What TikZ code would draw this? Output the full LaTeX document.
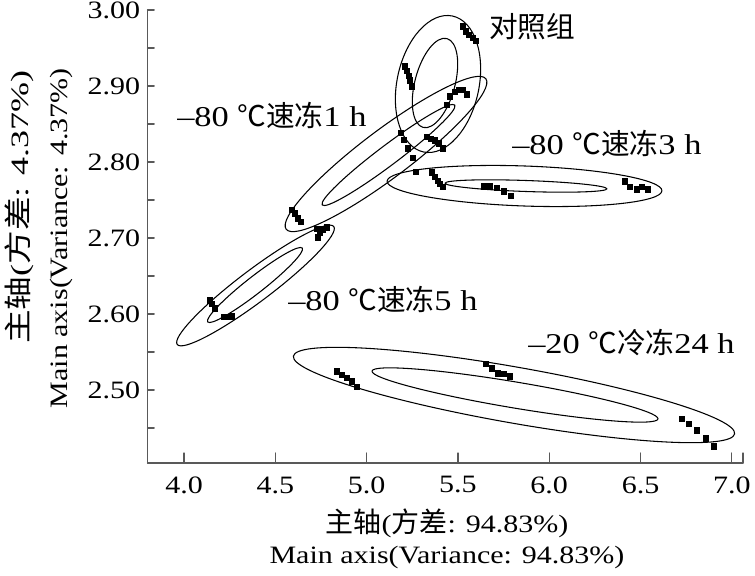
\documentclass[tikz,border=0pt]{standalone}
\usepackage{graphicx}
\usepackage{fontspec}
\setmainfont{Liberation Serif}[FakeStretch=1.2]
\newfontfamily\cjk{Noto Sans CJK SC}
\newfontfamily\cjktitle{Noto Sans CJK SC}[Scale=1.12]
\newcommand{\zh}[1]{{\cjk #1}}
\newcommand{\zht}[1]{{\cjktitle #1}}

\begin{document}
\begin{tikzpicture}[x=0.75pt, y=0.75pt, line cap=round, line join=round,
	ring/.style={line width=0.8pt},
	axis/.style={black!65, line width=0.9pt},
	sample/.style={rectangle, fill=black, inner sep=0pt, minimum size=4.9pt},
	ticktext/.style={font=\fontsize{18.75}{20}\selectfont, inner sep=0pt},
	grouptext/.style={font=\fontsize{21.5}{24}\selectfont, inner sep=0pt}]
\useasboundingbox (0,0) rectangle (755,575);
%========================
% data frame: main axis scores
%========================
\begin{scope}[shift={(-546.4,-1715)}, x=136.95pt, y=570pt]
	% axes
	\draw[axis] (3.8,2.404) -- (7.061,2.404);
	\draw[axis] (3.8,2.404) -- (3.8,3.0);
	
	% x ticks and labels
	\foreach \v [count=\i] in {4.0,4.5,5.0,5.5,6.0,6.5,7.0} {
		\draw[axis] (\v,2.404) -- ++(0pt,7.5pt);
		\node[ticktext, below=10pt] (xl\i) at (\v,2.404) {\v};
	}
	\draw[axis] (7.061,2.404) -- ++(0pt,7.5pt);
	
	% y ticks and labels
	\foreach \v in {2.45,2.50,...,3.01}
		\draw[axis] (3.8,\v) -- ++(5pt,0pt);
	\foreach \v [count=\i] in {2.50,2.60,2.70,2.80,2.90,3.00}
		\node[ticktext, left=5.25pt] (yl\i) at (3.8,\v) {\v};
	
	% samples
	\foreach \sx/\sy [count=\i] in {
		5.528/2.978, 5.544/2.972, 5.561/2.967, 5.583/2.963, 5.599/2.959,
		5.210/2.926, 5.221/2.920, 5.232/2.913, 5.238/2.907, 5.249/2.899,
		5.440/2.875, 5.457/2.886, 5.484/2.892, 5.506/2.895, 5.528/2.895, 5.550/2.889,
		5.188/2.838, 5.205/2.829, 5.227/2.818, 5.254/2.805, 5.271/2.787,
		5.331/2.833, 5.353/2.830, 5.375/2.828, 5.396/2.824, 5.418/2.818,
		5.358/2.786, 5.375/2.780, 5.391/2.775, 5.402/2.771, 5.418/2.767,
		5.643/2.768, 5.676/2.768, 5.714/2.766, 5.752/2.761, 5.791/2.755,
		6.415/2.774, 6.443/2.767, 6.481/2.764, 6.508/2.767, 6.541/2.764,
		4.591/2.737, 4.608/2.732, 4.624/2.726, 4.641/2.721,
		4.728/2.712, 4.745/2.707, 4.734/2.701, 4.761/2.711, 4.783/2.714,
		4.142/2.618, 4.153/2.613, 4.170/2.607, 4.219/2.596, 4.241/2.596, 4.263/2.597,
		4.838/2.524, 4.865/2.520, 4.893/2.516, 4.920/2.511, 4.947/2.504,
		5.654/2.534, 5.687/2.528, 5.720/2.522, 5.752/2.521, 5.785/2.518,
		6.727/2.462, 6.766/2.455, 6.809/2.447, 6.859/2.436, 6.903/2.426}
		\node[sample] (s\i) at (\sx,\sy) {};
\end{scope}

%========================
% confidence ellipses (inner and outer)
%========================
\foreach \cx/\cy/\rx/\ry/\rot in {
	438/491/41/69.5/-12, 435/492/20/46/-15,      % control
	386/421/125/24/37, 388.5/420/83/10/37,       % -80, 1 h
	524.5/389/137.5/20/-2, 526/389/81/5.5/-2,    % -80, 3 h
	255.5/289.5/98/16/37, 255/290/60/8.5/38,     % -80, 5 h
	514/180/224/28/-10, 515/180/145/13/-9.5}     % -20, 24 h
	\draw[ring, rotate around={\rot:(\cx,\cy)}] (\cx,\cy) ellipse [x radius=\rx, y radius=\ry];

% group names
\node[grouptext, anchor=base west] (gctrl) at (489,537) {\zh{对照组}};
\node[grouptext, anchor=base west] (g1h) at (177,448) {–80 \zh{℃速冻}1 h};
\node[grouptext, anchor=base west] (g3h) at (512,420) {–80 \zh{℃速冻}3 h};
\node[grouptext, anchor=base west] (g5h) at (288,265) {–80 \zh{℃速冻}5 h};
\node[grouptext, anchor=base west] (g24h) at (528,222) {–20 \zh{℃冷冻}24 h};

% axis titles
\node[ticktext, anchor=base] (xtzh) at (447,43) {\zht{主轴}(\zht{方差}: 94.83\%)};
\node[ticktext, anchor=base] (xten) at (447,12) {Main axis(Variance: 94.83\%)};
\node[ticktext, rotate=90, anchor=base east] (ytzh) at (28,505)
	{\scalebox{1.2}[1]{\zht{主轴}(\zht{方差}: 4.37\%)}};
\node[ticktext, rotate=90, anchor=base east] (yten) at (67,507) {Main axis(Variance: 4.37\%)};
\end{tikzpicture}
\end{document}
